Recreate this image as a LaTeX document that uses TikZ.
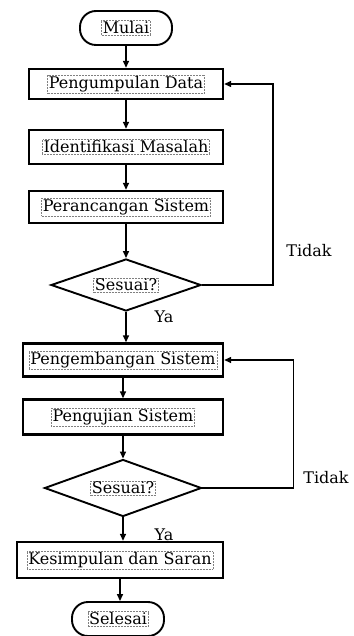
\documentclass[tikz,border=0pt]{standalone}
\usepackage{fontspec}
\setmainfont{DejaVu Serif}
\usetikzlibrary{shapes.geometric,arrows.meta}

\begin{document}
\begin{tikzpicture}[x=1pt,y=-1pt,
	every node/.style={font=\fontsize{16}{19}\selectfont},
	txt/.style={rectangle,draw=gray,densely dotted,line width=0.5pt,sharp corners,inner sep=1.2pt},
	proc/.style={draw,rectangle,line width=2.4pt},
	term/.style={draw,rectangle,line width=1.9pt,rounded corners=16pt,minimum width=92pt,minimum height=34pt},
	cek/.style={draw,diamond,line width=1.9pt,inner sep=0pt},
	arr/.style={line width=1.4pt,-{Triangle[length=7pt,width=6pt]}}]
	\useasboundingbox (0,0) rectangle (353,636);
	% alur utama
	\node[term] (mulai) at (126,28) [label={[txt]center:Mulai}] {};
	\node[proc,minimum width=194pt,minimum height=30pt] (kumpul) at (126,84) [label={[txt]center:Pengumpulan Data}] {};
	\node[proc,minimum width=194pt,minimum height=34pt] (identifikasi) at (126,147) [label={[txt]center:Identifikasi Masalah}] {};
	\node[proc,minimum width=194pt,minimum height=32pt] (rancang) at (126,207) [label={[txt]center:Perancangan Sistem}] {};
	\node[cek,minimum width=150pt,minimum height=52pt] (sesuai1) at (126,285) [label={[txt]center:Sesuai?}] {};
	\node[proc,minimum width=200pt,minimum height=33pt] (kembang) at (123,360) [label={[txt]center:Pengembangan Sistem}] {};
	\node[proc,minimum width=200pt,minimum height=35pt] (uji) at (123,417) [label={[txt]center:Pengujian Sistem}] {};
	\node[cek,minimum width=157pt,minimum height=57pt] (sesuai2) at (123,488) [label={[txt]center:Sesuai?}] {};
	\node[proc,minimum width=206pt,minimum height=36pt] (simpul) at (120,560) [label={[txt]center:Kesimpulan dan Saran}] {};
	\node[term] (selesai) at (118,619) [label={[txt]center:Selesai}] {};
	% keterangan
	\node (tidak1) at (309,251) {Tidak};
	\node (ya1) at (164,317) {Ya};
	\node (tidak2) at (326,478) {Tidak};
	\node (ya2) at (164,535) {Ya};
	% panah
	\draw[arr] (mulai) -- (kumpul);
	\draw[arr] (kumpul) -- (identifikasi);
	\draw[arr] (identifikasi) -- (rancang);
	\draw[arr] (rancang) -- (sesuai1);
	\draw[arr] (sesuai1.south) -- (sesuai1.south |- kembang.north);
	\draw[arr] (sesuai1.east) -- ++(71,0) |- (kumpul.east);
	\draw[arr] (kembang) -- (uji);
	\draw[arr] (uji) -- (sesuai2);
	\draw[arr] (sesuai2.south) -- (sesuai2.south |- simpul.north);
	\draw[arr] (sesuai2.east) -- ++(91,0) |- (kembang.east);
	\draw[arr] (simpul.south) -- (simpul.south |- selesai.north);
\end{tikzpicture}
\end{document}
